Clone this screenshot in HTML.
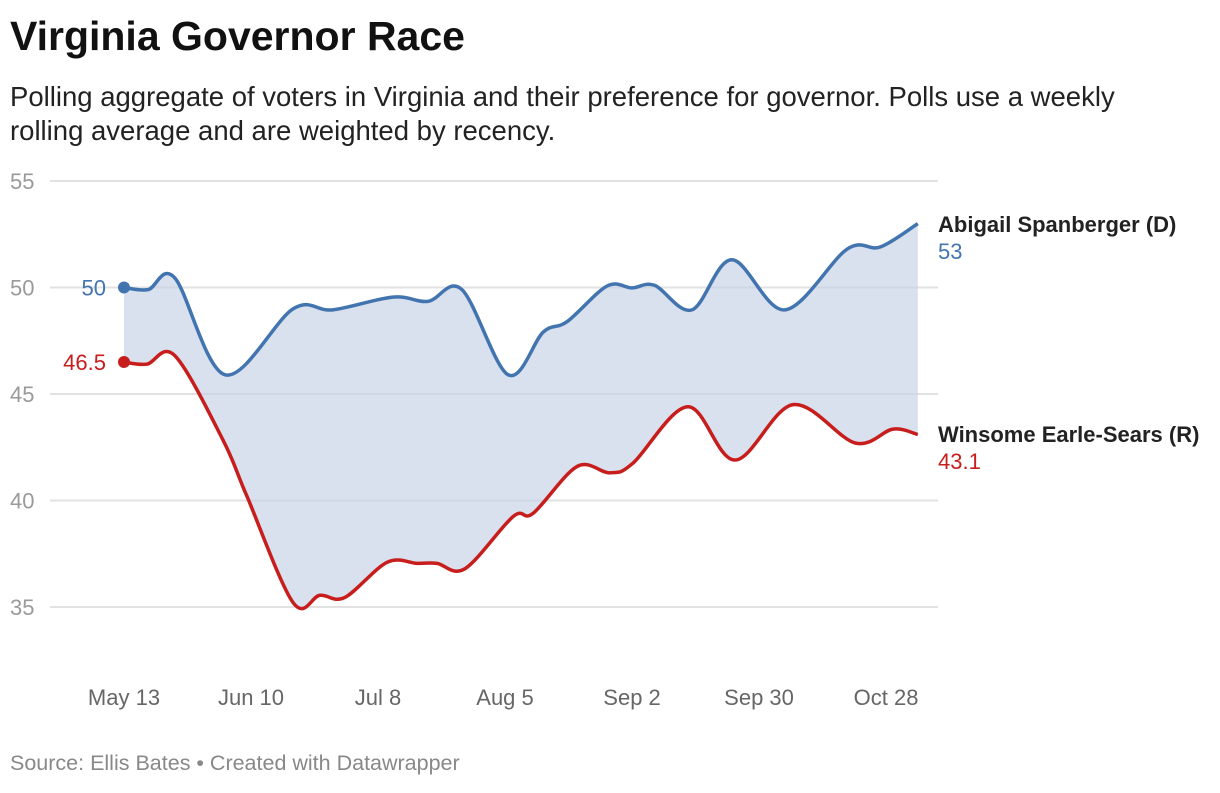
<!DOCTYPE html>
<html><head><meta charset="utf-8"><style>
body{margin:0;background:#fff;font-family:"Liberation Sans",Arial,sans-serif;}
svg text{font-family:"Liberation Sans",Arial,sans-serif;}
</style></head><body>
<svg id="c" width="1220" height="788" xmlns="http://www.w3.org/2000/svg">
<text x="10" y="50" font-size="41" font-weight="bold" fill="#111">Virginia Governor Race</text>
<text x="10" y="106" font-size="27.5" fill="#222">Polling aggregate of voters in Virginia and their preference for governor. Polls use a weekly</text>
<text x="10" y="140" font-size="27.5" fill="#222">rolling average and are weighted by recency.</text>
<text x="10" y="770" font-size="21.5" fill="#888">Source: Ellis Bates • Created with Datawrapper</text>
<g id="grid"></g><g id="plot"></g>
</svg>
<script>
const yTicks=[35,40,45,50,55];
const xTickDays=[0,28,56,84,112,140,168];
const xTickLabels=["May 13","Jun 10","Jul 8","Aug 5","Sep 2","Sep 30","Oct 28"];
const demDays=[0,5.3,11.2,22.3,37.3,46,59.3,67,74.5,84.7,92.4,97.7,106.5,112,117,125.2,134,145.7,159.4,166.7,175];
const demVals=[50,49.9,50.45,45.9,49.0,48.95,49.55,49.35,49.9,45.9,47.9,48.4,50.07,49.98,50.1,48.95,51.3,48.95,51.8,51.9,53.0];
const repDays=[0,5,11.2,21.8,27.1,37.3,43.2,48.7,58,64.6,69,75.2,85.8,90.2,99.9,107.1,112.2,124.3,134.7,147.5,161.2,169.5,175];
const repVals=[46.5,46.4,46.8,42.85,40.2,35.2,35.55,35.45,37.1,37.05,37.05,36.8,39.25,39.4,41.6,41.3,41.75,44.4,41.9,44.5,42.7,43.35,43.1];
const NS="http://www.w3.org/2000/svg";
const X=d=>124+d*4.536, Y=v=>181+(55-v)*21.3;
function mk(tag,attrs,parent){const e=document.createElementNS(NS,tag);for(const k in attrs)e.setAttribute(k,attrs[k]);parent.appendChild(e);return e;}
const grid=document.getElementById('grid'),plot=document.getElementById('plot');
yTicks.forEach(t=>{
 const l=mk('line',{x1:50,x2:938,y1:Y(t),y2:Y(t),stroke:'#e2e2e2','stroke-width':2},grid);
 
 
 const tx=mk('text',{x:10,y:Y(t)+8,'font-size':22,fill:'#9a9a9a'},grid);tx.textContent=t;
 
 
});
xTickDays.forEach((d,i)=>{
 const tx=mk('text',{x:X(d),y:705,'font-size':22,fill:'#666','text-anchor':'middle'},grid);tx.textContent=xTickLabels[i];
 
 
});
function pts(ds,vs){return ds.map((d,i)=>[X(d),Y(vs[i])]);}
function cr(p,move){let s=move?`M${p[0][0]},${p[0][1]}`:`L${p[0][0]},${p[0][1]}`;
 for(let i=0;i<p.length-1;i++){const p0=p[i-1]||p[i],p1=p[i],p2=p[i+1],p3=p[i+2]||p2;
  s+=`C${p1[0]+(p2[0]-p0[0])/6},${p1[1]+(p2[1]-p0[1])/6} ${p2[0]-(p3[0]-p1[0])/6},${p2[1]-(p3[1]-p1[1])/6} ${p2[0]},${p2[1]}`;}
 return s;}
const dp=pts(demDays,demVals),rp=pts(repDays,repVals);
const area=mk('path',{d:cr(dp,true)+cr(rp.slice().reverse(),false)+'Z',fill:'#c3d1e4','fill-opacity':0.65},plot);


const dl=mk('path',{d:cr(dp,true),fill:'none',stroke:'#4274b0','stroke-width':3.5},plot);


const rl=mk('path',{d:cr(rp,true),fill:'none',stroke:'#c71e1d','stroke-width':3.5},plot);


const dd=mk('circle',{cx:dp[0][0],cy:dp[0][1],r:6,fill:'#4274b0'},plot);


const rd=mk('circle',{cx:rp[0][0],cy:rp[0][1],r:6,fill:'#c71e1d'},plot);


function lab(x,y,txt,fill,bold,anchor,name){const t=mk('text',{x:x,y:y,'font-size':22,fill:fill,'font-weight':bold?'bold':'normal','text-anchor':anchor},plot);t.textContent=txt;
 
 }
lab(106,dp[0][1]+8,String(demVals[0]),'#4274b0',false,'end','spanberger-start-value');
lab(106,rp[0][1]+8,String(repVals[0]),'#c71e1d',false,'end','earle-sears-start-value');
lab(938,232,'Abigail Spanberger (D)','#222',true,'start','spanberger-legend-name');
lab(938,259,String(demVals[demVals.length-1]),'#4274b0',false,'start','spanberger-end-value');
lab(938,442,'Winsome Earle-Sears (R)','#222',true,'start','earle-sears-legend-name');
lab(938,469,String(repVals[repVals.length-1]),'#c71e1d',false,'start','earle-sears-end-value');
</script>
</body></html>
